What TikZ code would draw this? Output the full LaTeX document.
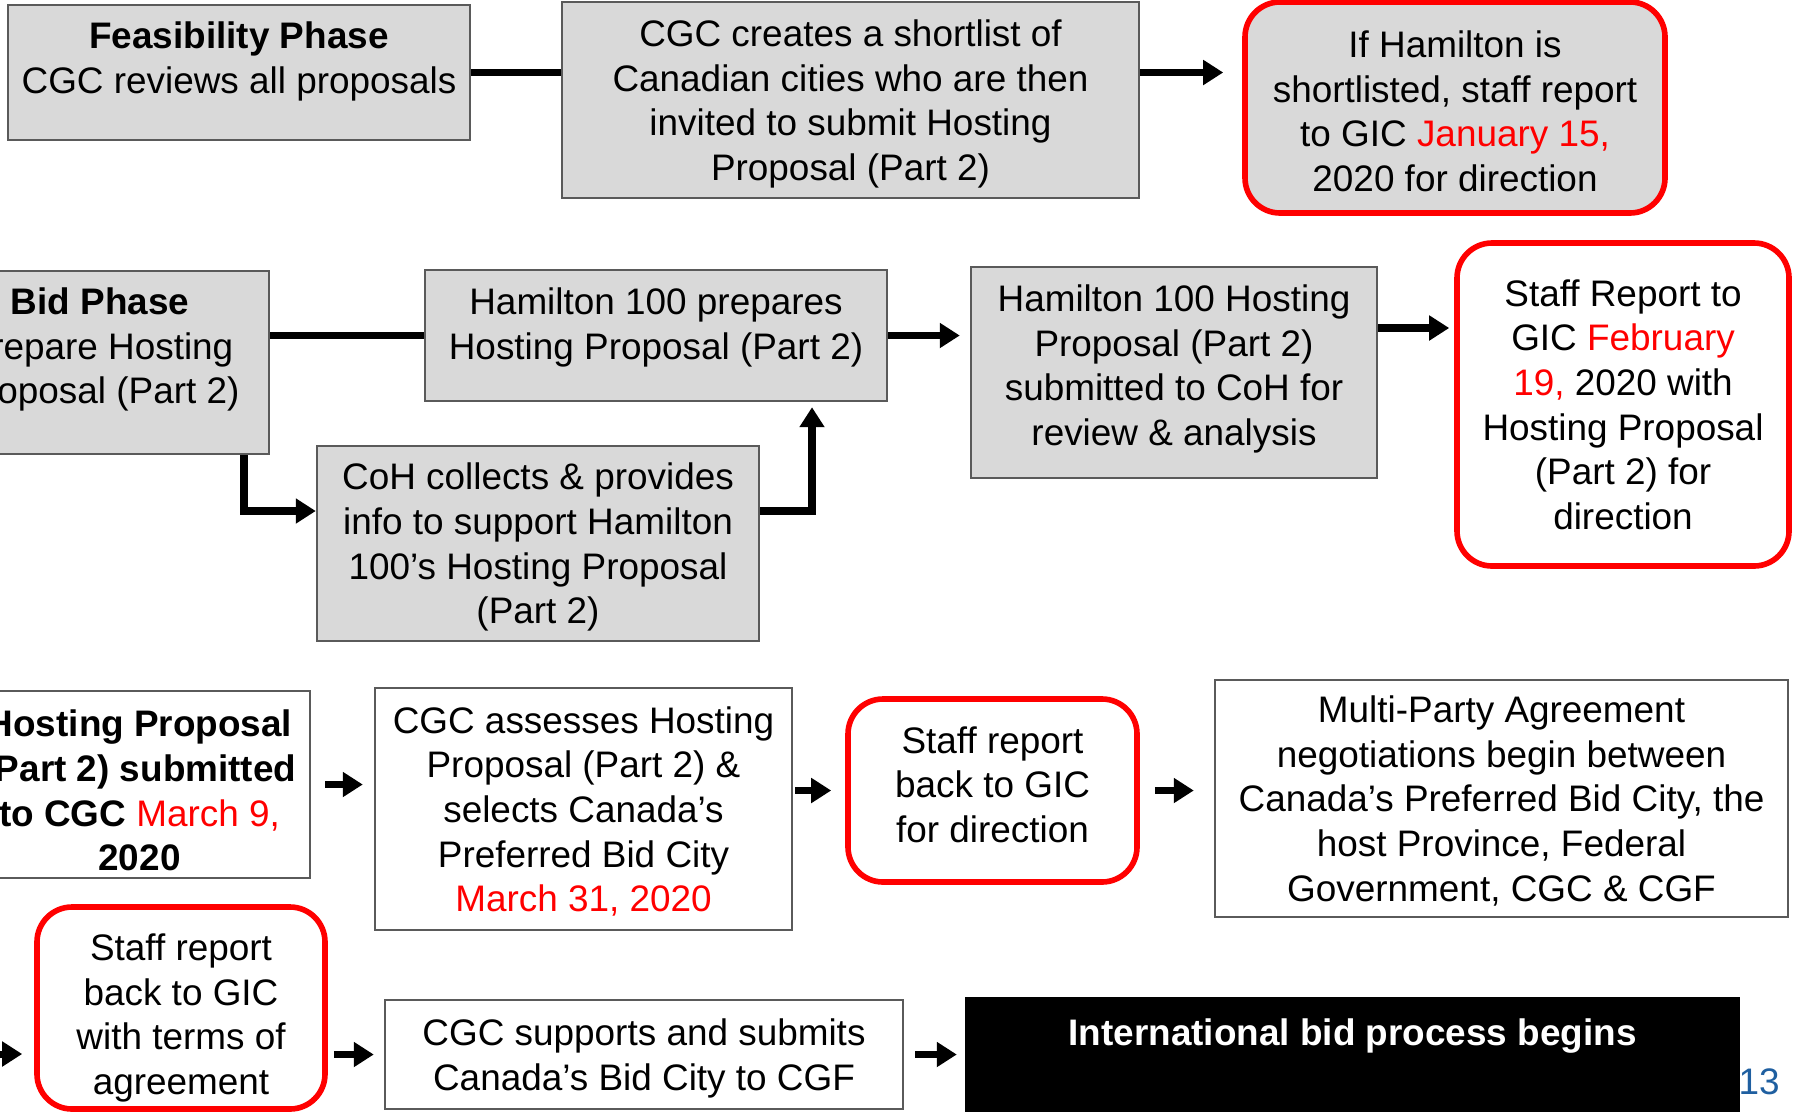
\documentclass[tikz,border=0pt]{standalone}
\usepackage{fontspec}
\setmainfont{Liberation Sans}
\usetikzlibrary{arrows.meta}
\definecolor{BoxGray}{RGB}{217,217,217}
\definecolor{EdgeGray}{RGB}{90,90,90}
\definecolor{DateRed}{RGB}{255,0,0}
\definecolor{PageBlue}{RGB}{31,95,160}

\begin{document}
\begin{tikzpicture}[
  box/.style={draw=EdgeGray, line width=0.7pt, align=center,
    font=\fontsize{10.5}{12.7}\selectfont, inner sep=2pt, text depth=0pt},
  graybox/.style={box, fill=BoxGray},
  whitebox/.style={box, fill=white},
  gicbox/.style={box, draw=DateRed, line width=1.6pt, rounded corners=0.35cm},
  link/.style={line width=2pt, draw=black},
  arrow/.style={link, -{Triangle[length=2mm, width=2.4mm]}}
]
\useasboundingbox (0,0) rectangle (17.96,-11.11);
\clip (0,0) rectangle (17.96,-11.11);

\node[graybox, minimum width=4.62cm, minimum height=1.35cm, text depth=8.4pt] (feas) at (2.39,-0.725)
  {\textbf{Feasibility Phase}\\CGC reviews all proposals};
\node[graybox, minimum width=5.77cm, minimum height=1.96cm] (shortlist) at (8.505,-1.00)
  {CGC creates a shortlist of\\Canadian cities who are then\\invited to submit Hosting\\Proposal (Part 2)};
\node[gicbox, fill=BoxGray, minimum width=4.20cm, minimum height=2.11cm] (gicjan) at (14.55,-1.075)
  {\rule{0pt}{9.7pt}If Hamilton is\\shortlisted, staff report\\to GIC \textcolor{DateRed}{January 15,}\\2020 for direction};

\node[graybox, minimum width=3.38cm, minimum height=1.83cm, text depth=9.4pt] (bid) at (1.00,-3.625)
  {\textbf{Bid Phase}\\Prepare Hosting\\Proposal (Part 2)};
\node[graybox, minimum width=4.62cm, minimum height=1.31cm, text depth=6.8pt] (prep) at (6.56,-3.355)
  {Hamilton 100 prepares\\Hosting Proposal (Part 2)};
\node[graybox, minimum width=4.42cm, minimum height=1.95cm] (coh) at (5.38,-5.435)
  {CoH collects \& provides\\info to support Hamilton\\100’s Hosting Proposal\\(Part 2)};
\node[graybox, minimum width=4.06cm, minimum height=2.11cm, text depth=4.3pt] (h100sub) at (11.74,-3.725)
  {Hamilton 100 Hosting\\Proposal (Part 2)\\submitted to CoH for\\review \& analysis};
\node[gicbox, fill=white, minimum width=3.32cm, minimum height=3.23cm] (gicfeb) at (16.23,-4.045)
  {Staff Report to\\GIC \textcolor{DateRed}{February}\\\textcolor{DateRed}{19,} 2020 with\\Hosting Proposal\\(Part 2) for\\direction};

\node[whitebox, minimum width=3.41cm, minimum height=1.85cm] (hpsub) at (1.395,-7.845)
  {\rule{0pt}{11pt}\textbf{Hosting Proposal}\\\textbf{(Part 2) submitted}\\\textbf{to CGC} \textcolor{DateRed}{March 9,}\\\textbf{2020}};
\node[whitebox, minimum width=4.17cm, minimum height=2.42cm] (assess) at (5.835,-8.09)
  {CGC assesses Hosting\\Proposal (Part 2) \&\\selects Canada’s\\Preferred Bid City\\\textcolor{DateRed}{March 31, 2020}};
\node[gicbox, fill=white, minimum width=2.89cm, minimum height=1.83cm, text depth=3.4pt] (gicback) at (9.925,-7.905)
  {Staff report\\back to GIC\\for direction};
\node[whitebox, minimum width=5.73cm, minimum height=2.37cm] (mpa) at (15.015,-7.985)
  {Multi-Party Agreement\\negotiations begin between\\Canada’s Preferred Bid City, the\\host Province, Federal\\Government, CGC \& CGF};

\node[gicbox, fill=white, minimum width=2.88cm, minimum height=2.02cm] (gicterms) at (1.81,-10.08)
  {\rule{0pt}{11pt}Staff report\\back to GIC\\with terms of\\agreement};
\node[whitebox, minimum width=5.18cm, minimum height=1.09cm] (submit) at (6.44,-10.545)
  {CGC supports and submits\\Canada’s Bid City to CGF};
\node[box, draw=black, fill=black, text=white, minimum width=7.73cm, minimum height=1.27cm, text depth=16.8pt] (intl) at (13.525,-10.615)
  {\textbf{International bid process begins}};
\node[font=\fontsize{10.5}{12.7}\selectfont, text=PageBlue, inner sep=0pt] (pagenum) at (17.59,-10.82) {13};

\draw[link] (feas.east) -- (feas.east -| shortlist.west);
\draw[arrow, shorten >=0.19cm] (shortlist.east |- feas.east) -- (gicjan.west |- feas.east);

\draw[link] (bid.east |- prep.west) -- (prep.west);
\draw[arrow] ([xshift=1.44cm]bid.south) |- ([yshift=0.325cm]coh.west);
\draw[arrow, shorten >=0.05cm] ([yshift=0.325cm]coh.east) -| ([xshift=1.56cm]prep.south);
\draw[arrow, shorten >=0.1cm] (prep.east) -- (prep.east -| h100sub.west);
\coordinate (febin) at ([yshift=0.445cm]h100sub.east);
\draw[arrow, shorten >=0.05cm] (febin) -- (febin -| gicfeb.west);

\draw[arrow, shorten <=0.14cm, shorten >=0.11cm] (hpsub.east) -- (hpsub.east -| assess.west);
\draw[arrow, shorten <=0.02cm, shorten >=0.14cm] (gicback.west -| assess.east) -- (gicback.west);
\draw[arrow, shorten <=0.15cm, shorten >=0.2cm] (gicback.east) -- (gicback.east -| mpa.west);

\coordinate (offpage) at (-0.3,-10.54);
\draw[arrow, shorten >=0.12cm] (offpage) -- (offpage -| gicterms.west);
\draw[arrow, shorten <=0.06cm, shorten >=0.1cm] (submit.west -| gicterms.east) -- (submit.west);
\draw[arrow, shorten <=0.11cm, shorten >=0.08cm] (submit.east) -- (submit.east -| intl.west);
\end{tikzpicture}
\end{document}
